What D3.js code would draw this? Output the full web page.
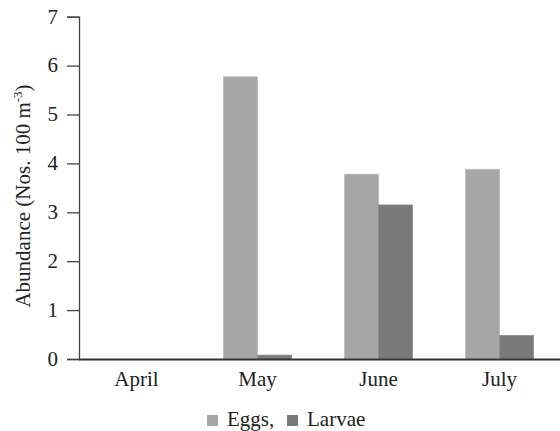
<!DOCTYPE html>
<html>
<head>
<meta charset="utf-8">
<script src="https://cdn.jsdelivr.net/npm/d3@7/dist/d3.min.js"></script>
<style>
  html, body { margin: 0; padding: 0; background: #fff; }
  svg { display: block; }
</style>
</head>
<body>
<svg id="chart" width="560" height="431"></svg>
<script>
// Monthly abundance of eggs and larvae (Nos. 100 m^-3)
const months = ["April", "May", "June", "July"];
const eggs   = [0, 5.77, 3.78, 3.88];
const larvae = [0, 0.08, 3.15, 0.48];
const yTicks = [0, 1, 2, 3, 4, 5, 6, 7];
const seriesNames = ["Eggs,", "Larvae"];
const seriesColors = ["#a6a6a6", "#7a7a7a"];
const seriesStrokes = ["#bcbcbc", "#8c8c8c"];

const FONT = "'Liberation Serif'";
const FS = "21px";
const TXT = "#222";

const svg = d3.select("#chart");
const axisX = 79, baseY = 359, topY = 16.7, rightX = 560;

const x = d3.scaleBand().domain(months).range([76, 560]).paddingInner(0).paddingOuter(0);
const y = d3.scaleLinear().domain([0, 7]).range([baseY, topY]);
const barW = 34;

const series = [eggs, larvae];

// bars
series.forEach((vals, si) => {
  svg.append("g")
    .selectAll("rect")
    .data(months.map((m, i) => ({ m, v: vals[i] })).filter(d => d.v > 0))
    .join("rect")
    .attr("x", d => x(d.m) + x.bandwidth() / 2 - barW + si * barW)
    .attr("y", d => y(d.v))
    .attr("width", barW)
    .attr("height", d => y(0) - y(d.v))
    .attr("fill", seriesColors[si])
    .attr("stroke", seriesStrokes[si])
    .attr("stroke-width", 0.8);
});

// y axis
const yAxis = d3.axisLeft(y).tickValues(yTicks).tickSize(12).tickPadding(9).tickFormat(d3.format("d"));
const gy = svg.append("g").attr("transform", `translate(${axisX},0)`).call(yAxis);
gy.attr("font-family", null).attr("font-size", null);
gy.select(".domain").attr("stroke", "#444").attr("stroke-width", 1.3);
gy.selectAll(".tick line").attr("stroke", "#444").attr("stroke-width", 1.3);
gy.selectAll(".tick text")
  .style("font-family", FONT).style("font-size", FS).attr("fill", TXT).attr("dy", "0.3em");

// x axis
const xAxis = d3.axisBottom(x).tickSize(0).tickPadding(12);
const gx = svg.append("g").attr("transform", `translate(0,${baseY})`).call(xAxis);
gx.attr("font-family", null).attr("font-size", null);
gx.select(".domain").remove();
gx.append("line").attr("x1", axisX).attr("x2", rightX).attr("y1", 0.5).attr("y2", 0.5)
  .attr("stroke", "#333").attr("stroke-width", 2);
gx.selectAll(".tick text")
  .style("font-family", FONT).style("font-size", FS).attr("fill", TXT).attr("dy", "0.71em");

// y axis title
const yt = svg.append("text")
  .attr("transform", `translate(30,${196}) rotate(-90)`)
  .attr("text-anchor", "middle")
  .style("font-family", FONT).style("font-size", FS)
  .attr("fill", TXT);
yt.append("tspan").text("Abundance (Nos. 100 m");
yt.append("tspan").style("font-size", "13px").attr("dy", -8).text("-3");
yt.append("tspan").attr("dy", 8).text(")");

// legend
const legend = svg.append("g");
const legendX = [207, 287];
seriesNames.forEach((name, i) => {
  legend.append("rect")
    .attr("x", legendX[i]).attr("y", 415).attr("width", 11).attr("height", 11)
    .attr("fill", seriesColors[i]);
  legend.append("text")
    .attr("x", legendX[i] + 20).attr("y", 426)
    .style("font-family", FONT).style("font-size", FS)
    .attr("fill", TXT)
    .text(name);
});
</script>
</body>
</html>
